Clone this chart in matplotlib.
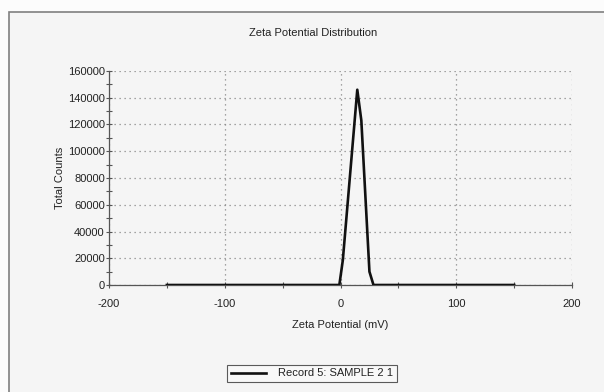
import matplotlib
matplotlib.use("Agg")
import matplotlib.pyplot as plt
from matplotlib.patches import Rectangle
from matplotlib.ticker import MultipleLocator

# Zeta potential (mV) vs total counts
zeta_mv = [-150, -1, 2, 14.5, 18, 25, 28.5, 150]
total_counts = [0, 0, 18500, 146000, 123000, 10000, 0, 0]
series_label = "Record 5: SAMPLE 2 1"

plt.rcParams["font.family"] = ["Liberation Sans", "DejaVu Sans"]
plt.rcParams["font.size"] = 8
plt.rcParams["axes.unicode_minus"] = False

W, H = 604, 392
fig = plt.figure(figsize=(W / 100, H / 100), dpi=100)
fig.patch.set_facecolor("#fcfcfc")

# panel background with a grey frame on the top and left
fig.patches.append(Rectangle((9 / W, -0.1), 1.2, 1.1 - 12 / H, transform=fig.transFigure,
                             facecolor="#f5f5f5", edgecolor="#808080", lw=1.2, zorder=-5))

ax = fig.add_axes([109 / W, 1 - 285 / H, (572 - 109) / W, (285 - 71) / H])
ax.patch.set_alpha(0)

ax.plot(zeta_mv, total_counts, color="#111111", lw=1.9, label=series_label, zorder=3)

ax.set_xlim(-200, 200)
ax.set_ylim(0, 160000)
ax.xaxis.set_major_locator(MultipleLocator(100))
ax.xaxis.set_minor_locator(MultipleLocator(50))
ax.yaxis.set_major_locator(MultipleLocator(20000))
ax.yaxis.set_minor_locator(MultipleLocator(10000))

for s in ("top", "right"):
    ax.spines[s].set_visible(False)
for s in ("left", "bottom"):
    ax.spines[s].set_color("#555555")
    ax.spines[s].set_linewidth(0.9)

ax.tick_params(which="both", direction="inout", length=5, width=0.8, colors="#555555",
               labelcolor="#222222", labelsize=8)
ax.tick_params(axis="x", pad=7.5)
ax.tick_params(axis="y", pad=0.5)
ax.grid(True, which="major", linestyle=(0, (1, 3)), color="#888888", lw=0.9)

fig.text(313 / W, 1 - 33 / H, "Zeta Potential Distribution", fontsize=8,
         color="#222222", ha="center", va="center")
ax.set_xlabel("Zeta Potential (mV)", fontsize=8, color="#222222", labelpad=8)
ax.set_ylabel("Total Counts", fontsize=8, color="#222222", labelpad=2)

leg = ax.legend(loc="center", bbox_to_anchor=(312 / W, 1 - 373.5 / H),
                bbox_transform=fig.transFigure, fancybox=False, frameon=True,
                handlelength=3.1, handletextpad=1.1, borderpad=0.35, fontsize=8)
leg.get_frame().set_edgecolor("#333333")
leg.get_frame().set_facecolor("#fafafa")
leg.get_frame().set_linewidth(0.8)
for t in leg.get_texts():
    t.set_color("#222222")

fig.savefig("out.png", dpi=100, facecolor=fig.get_facecolor())
